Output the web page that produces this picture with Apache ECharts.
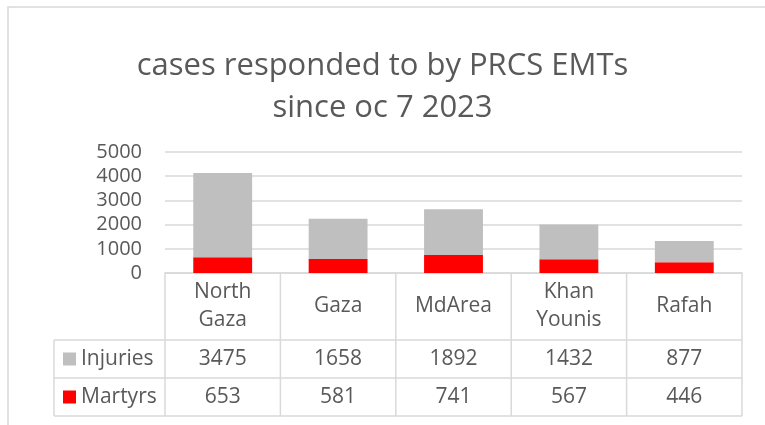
<!DOCTYPE html>
<html>
<head>
<meta charset="utf-8">
<script src="https://cdn.jsdelivr.net/npm/echarts@6/dist/echarts.min.js"></script>
<style>
  html, body { margin: 0; padding: 0; background: #ffffff; }
  #chart { width: 765px; height: 425px; }
</style>
</head>
<body>
<div id="chart"></div>
<script>
const titleLines = ['cases responded to by PRCS EMTs', 'since oc 7 2023'];
const categories = ['North Gaza', 'Gaza', 'MdArea', 'Khan Younis', 'Rafah'];
const injuries = [3475, 1658, 1892, 1432, 877];
const martyrs = [653, 581, 741, 567, 446];
const seriesNames = ['Injuries', 'Martyrs'];
const yMin = 0, yMax = 5000, yStep = 1000;

const TEXT = '#595959';
const LINE = '#d9d9d9';
const FONT = 'Open Sans';
const C_INJ = '#bfbfbf';
const C_MAR = '#ff0000';

const chart = echarts.init(document.getElementById('chart'), null, { renderer: 'canvas' });

const CAT_H = 67, ROW_H = 38, HEAD_W = 111;

function renderTable(params, api) {
  const i = api.value(0);
  const p = api.coord([i, 0]);
  const w = api.size([1, 0])[0];
  const xl = p[0] - w / 2, xr = p[0] + w / 2, y0 = p[1];
  const yA = y0 + CAT_H, yB = yA + ROW_H, yC = yB + ROW_H;
  const ls = { stroke: LINE, lineWidth: 1.5 };
  const line = (x1, y1, x2, y2) => ({ type: 'line', shape: { x1, y1, x2, y2 }, style: ls, silent: true });
  const txt = (text, x, y, align) => ({
    type: 'text', silent: true,
    style: { text: String(text), x, y, align: align || 'center', verticalAlign: 'middle',
      fill: TEXT, fontSize: 21, fontFamily: FONT, lineHeight: 28 }
  });
  const children = [
    line(xr, y0, xr, yC),
    line(xl, yA, xr, yA),
    line(xl, yB, xr, yB),
    line(xl, yC, xr, yC),
    txt(categories[i].replace(' ', '\n'), p[0], y0 + CAT_H / 2),
    txt(api.value(1), p[0], (yA + yB) / 2),
    txt(api.value(2), p[0], (yB + yC) / 2)
  ];
  if (i === 0) {
    const hx = xl - HEAD_W;
    children.push(
      line(xl, y0, xl, yC),
      line(hx, yA, xl, yA),
      line(hx, yB, xl, yB),
      line(hx, yC, xl, yC),
      line(hx, yA, hx, yC),
      { type: 'rect', silent: true, shape: { x: hx + 9, y: (yA + yB) / 2 - 6.5, width: 13, height: 13 }, style: { fill: C_INJ } },
      { type: 'rect', silent: true, shape: { x: hx + 9, y: (yB + yC) / 2 - 6.5, width: 13, height: 13 }, style: { fill: C_MAR } },
      txt(seriesNames[0], hx + 27, (yA + yB) / 2, 'left'),
      txt(seriesNames[1], hx + 27, (yB + yC) / 2, 'left')
    );
  }
  return { type: 'group', children };
}

const option = {
  backgroundColor: '#ffffff',
  animation: false,
  title: {
    text: titleLines.join('\n'),
    left: 'center',
    top: 45,
    padding: 0,
    textStyle: { fontFamily: FONT, fontSize: 31, fontWeight: 'normal', color: TEXT, lineHeight: 42 }
  },
  graphic: [{
    type: 'rect', silent: true,
    shape: { x: 8, y: 7, width: 800, height: 500 },
    style: { fill: 'none', stroke: LINE, lineWidth: 1.5 }
  }],
  grid: { left: 165, right: 23, top: 152, bottom: 152 },
  xAxis: {
    type: 'category',
    data: categories,
    axisTick: { show: false },
    axisLabel: { show: false },
    axisLine: { lineStyle: { color: LINE, width: 1.5 } }
  },
  yAxis: {
    type: 'value',
    min: yMin, max: yMax, interval: yStep,
    axisLine: { show: false },
    axisTick: { show: false },
    axisLabel: { color: TEXT, fontSize: 20, fontFamily: FONT, margin: 23, formatter: v => String(v) },
    splitLine: { lineStyle: { color: LINE, width: 1.5 } }
  },
  series: [
    { name: seriesNames[1], type: 'bar', stack: 's', data: martyrs, barWidth: '51%', itemStyle: { color: C_MAR } },
    { name: seriesNames[0], type: 'bar', stack: 's', data: injuries, barWidth: '51%', itemStyle: { color: C_INJ } },
    {
      type: 'custom', name: 'table', clip: false, silent: true,
      renderItem: renderTable,
      encode: { x: 0, y: 1 },
      data: categories.map((c, i) => [i, injuries[i], martyrs[i]]),
      z: 5
    }
  ]
};
chart.setOption(option);
</script>
</body>
</html>
